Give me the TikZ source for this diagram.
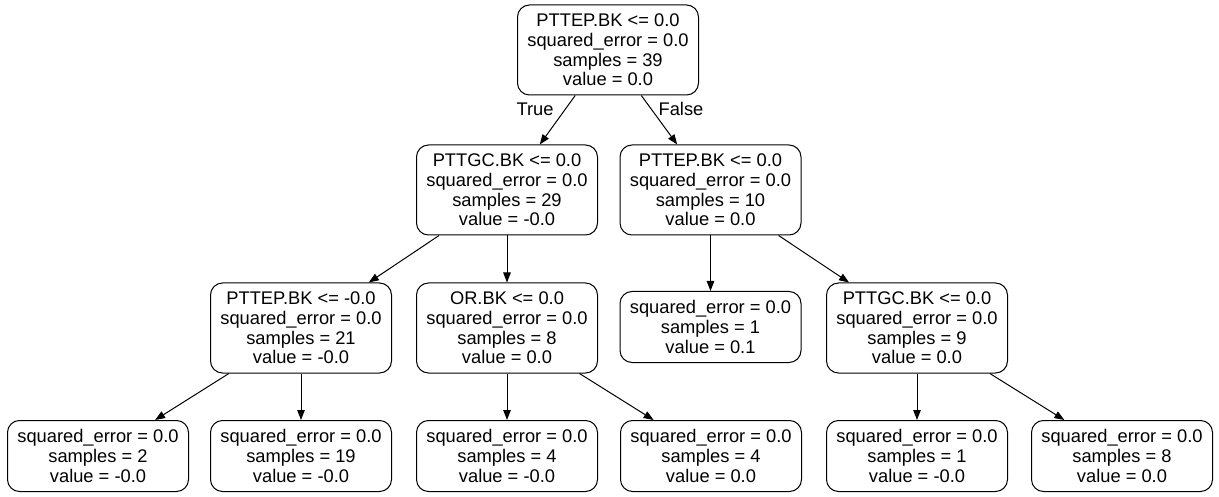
\documentclass[tikz,border=0pt]{standalone}
\usepackage{fontspec}
\setmainfont{Liberation Sans}
\usetikzlibrary{arrows.meta}

\tikzset{
	split/.style={draw, rounded corners=12pt, line width=1pt, align=center,
		minimum width=181pt, minimum height=90pt, inner sep=0pt,
		font=\fontsize{18.3}{19.7}\selectfont},
	leaf/.style={split, minimum height=71pt},
	edge/.style={line width=1pt, -{Triangle[length=10pt,width=7.5pt]}},
	lbl/.style={font=\fontsize{18.3}{20}\selectfont, inner sep=0pt}
}

\begin{document}
\begin{tikzpicture}[x=1pt,y=-1pt]
	\useasboundingbox (0,0) rectangle (1219,497);

	\node[split] (root) at (608,50) {PTTEP.BK <= 0.0\\squared\_error = 0.0\\samples = 39\\value = 0.0};

	\node[split] (gcA) at (507,190) {PTTGC.BK <= 0.0\\squared\_error = 0.0\\samples = 29\\value = -0.0};
	\node[split] (epB) at (710.5,190) {PTTEP.BK <= 0.0\\squared\_error = 0.0\\samples = 10\\value = 0.0};

	\node[split] (epC) at (301,328) {PTTEP.BK <= -0.0\\squared\_error = 0.0\\samples = 21\\value = -0.0};
	\node[split] (orD) at (507,328) {OR.BK <= 0.0\\squared\_error = 0.0\\samples = 8\\value = 0.0};
	\node[leaf] (lfE) at (710.5,327) {squared\_error = 0.0\\samples = 1\\value = 0.1};
	\node[split] (gcF) at (917,328) {PTTGC.BK <= 0.0\\squared\_error = 0.0\\samples = 9\\value = 0.0};

	\node[leaf] (lf1) at (98,456) {squared\_error = 0.0\\samples = 2\\value = -0.0};
	\node[leaf] (lf2) at (301,456) {squared\_error = 0.0\\samples = 19\\value = -0.0};
	\node[leaf] (lf3) at (507,456) {squared\_error = 0.0\\samples = 4\\value = -0.0};
	\node[leaf] (lf4) at (711,456) {squared\_error = 0.0\\samples = 4\\value = 0.0};
	\node[leaf] (lf5) at (917,456) {squared\_error = 0.0\\samples = 1\\value = -0.0};
	\node[leaf] (lf6) at (1122,456) {squared\_error = 0.0\\samples = 8\\value = 0.0};

	% edges
	\draw[edge] (root) -- (gcA);
	\draw[edge] (root) -- (epB);
	\draw[edge] (gcA) -- (epC);
	\draw[edge] (gcA) -- (orD);
	\draw[edge] (epB) -- (lfE);
	\draw[edge] (epB) -- (gcF);
	\draw[edge] (epC) -- (lf1);
	\draw[edge] (epC) -- (lf2);
	\draw[edge] (orD) -- (lf3);
	\draw[edge] (orD) -- (lf4);
	\draw[edge] (gcF) -- (lf5);
	\draw[edge] (gcF) -- (lf6);

	\node[lbl] (ltrue) at (535,109) {True};
	\node[lbl] (lfalse) at (681,109) {False};
\end{tikzpicture}
\end{document}
